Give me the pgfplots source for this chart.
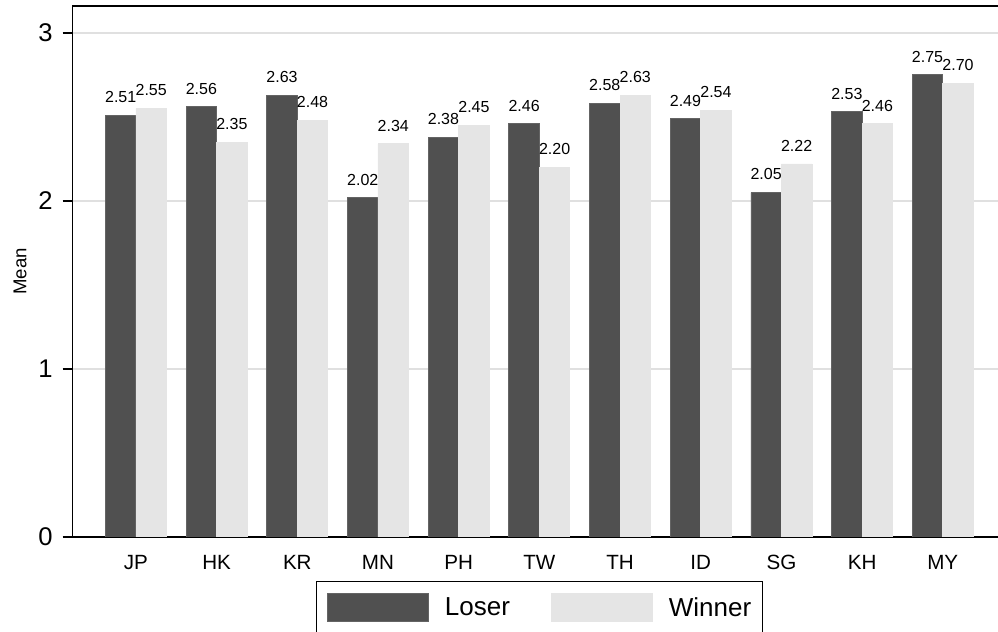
\documentclass[border=0pt]{standalone}
\usepackage{fontspec}
\setmainfont{Liberation Sans}
\usepackage{pgfplots}
\pgfplotsset{compat=1.18}
\definecolor{loser}{RGB}{80,80,80}
\definecolor{loseredge}{RGB}{100,100,100}
\definecolor{winner}{RGB}{229,229,229}
\definecolor{gridc}{RGB}{224,224,224}
\pgfplotstableread{
idx label loser winner
0  JP 2.51 2.55
1  HK 2.56 2.35
2  KR 2.63 2.48
3  MN 2.02 2.34
4  PH 2.38 2.45
5  TW 2.46 2.20
6  TH 2.58 2.63
7  ID 2.49 2.54
8  SG 2.05 2.22
9  KH 2.53 2.46
10 MY 2.75 2.70
}\datatable
\begin{document}
\begin{tikzpicture}
\path[use as bounding box] (-36.35pt,-47.5pt) rectangle (462.65pt,268.5pt);
\clip (-36.35pt,-47.5pt) rectangle (462.65pt,268.5pt);
\begin{axis}[
  scale only axis, width=466.5pt, height=265.5pt,
  xmin=-0.784, xmax=10.78, ymin=0, ymax=3.16,
  xtick={0,...,10},
  xticklabels={JP,HK,KR,MN,PH,TW,TH,ID,SG,KH,MY},
  ytick={0,1,2,3},
  /pgf/number format/assume math mode=true,
  axis line style={black, line width=0.75pt},
  tick align=outside,
  major tick length=5pt,
  xtick style={draw=none},
  ytick style={black, line width=0.75pt},
  x tick label style={font=\fontsize{10.3}{12}\selectfont, inner sep=0pt, anchor=north, yshift=-4pt},
  y tick label style={font=\fontsize{12.8}{14}\selectfont, inner sep=0pt, anchor=east, xshift=-4.85pt},
  ymajorgrids,
  grid style={gridc, line width=1.2pt},
  ylabel={Mean},
  ylabel style={font=\fontsize{9.3}{11}\selectfont, at={(axis description cs:-0.0565,0.5)}, anchor=center},
  ybar, bar width=0.378,
  nodes near coords={\pgfmathprintnumber[fixed,fixed zerofill,precision=2]{\pgfplotspointmeta}},
  nodes near coords style={font=\fontsize{8}{9.5}\selectfont, anchor=south, inner sep=0pt, yshift=6pt, black},
  legend columns=2,
  legend image code/.code={\fill[#1] (0pt,-6.35pt) rectangle (50.5pt,7.65pt);},
  legend style={at={(axis description cs:0.5,0)}, anchor=north, yshift=-22pt,
    draw=black, line width=0.6pt, inner xsep=5.5pt, inner ysep=5.5pt,
    font=\fontsize{13}{15}\selectfont, nodes={inner sep=0pt},
    /tikz/every odd column/.append style={column sep=8pt},
    /tikz/every even column/.append style={column sep=20.5pt}},
]
\addplot[fill=loser, draw=loseredge, line width=0.4pt, bar shift=-0.189] table[x=idx, y=loser] {\datatable};
\addlegendentry{Loser}
\addplot[fill=winner, draw=winner, line width=0.4pt, bar shift=0.189] table[x=idx, y=winner] {\datatable};
\addlegendentry{Winner}
\end{axis}
\end{tikzpicture}
\end{document}
